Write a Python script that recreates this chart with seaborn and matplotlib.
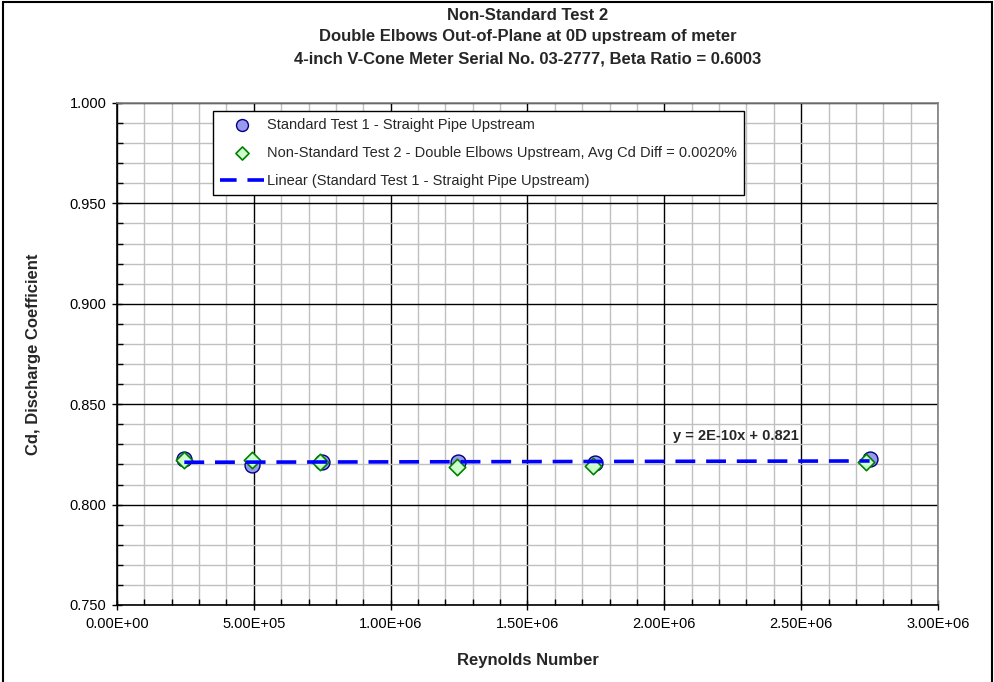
import numpy as np
import pandas as pd
import matplotlib
matplotlib.use("Agg")
import matplotlib.pyplot as plt
from matplotlib.ticker import MultipleLocator, FormatStrFormatter, FuncFormatter
from matplotlib.patches import Rectangle
import seaborn as sns

# Data
std_re = [2.46e5, 4.95e5, 7.48e5, 1.245e6, 1.747e6, 2.750e6]
std_cd = [0.8229, 0.8195, 0.8214, 0.8212, 0.8205, 0.8225]
ns_re = [2.45e5, 4.92e5, 7.42e5, 1.242e6, 1.739e6, 2.736e6]
ns_cd = [0.8222, 0.8222, 0.8214, 0.8189, 0.8192, 0.8214]

title_lines = ["Non-Standard Test 2",
               "Double Elbows Out-of-Plane at 0D upstream of meter",
               "4-inch V-Cone Meter Serial No. 03-2777, Beta Ratio = 0.6003"]
lbl_std = "Standard Test 1 - Straight Pipe Upstream"
lbl_ns = "Non-Standard Test 2 - Double Elbows Upstream, Avg Cd Diff = 0.0020%"
lbl_fit = "Linear (Standard Test 1 - Straight Pipe Upstream)"
eq_text = "y = 2E-10x + 0.821"

sns.set_theme(style="white")
plt.rcParams['font.family'] = ['Liberation Sans', 'DejaVu Sans']

fig = plt.figure(figsize=(9.95, 6.82), dpi=100)
ax = fig.add_axes([117/995, 1-605/682, (938-117)/995, (605-103)/682])

df_std = pd.DataFrame({"Re": std_re, "Cd": std_cd})
df_ns = pd.DataFrame({"Re": ns_re, "Cd": ns_cd})

# Linear fit
coef = np.polyfit(std_re, std_cd, 1)
fx = np.array([min(std_re), max(std_re)])
df_fit = pd.DataFrame({"Re": fx, "Cd": np.polyval(coef, fx)})

sns.scatterplot(data=df_std, x="Re", y="Cd", ax=ax, marker="o", s=115,
                color="#9999EE", edgecolor="#000080", linewidth=1.0,
                label=lbl_std, zorder=3)
sns.scatterplot(data=df_ns, x="Re", y="Cd", ax=ax, marker="D", s=70,
                color="#CCFFCC", edgecolor="#008000", linewidth=1.2,
                label=lbl_ns, zorder=4)
sns.lineplot(data=df_fit, x="Re", y="Cd", ax=ax, color="#0000FF",
             linewidth=2.6, dashes=False, label=lbl_fit, zorder=5)
ax.lines[-1].set_dashes([5.5, 3.0])

ax.set_xlim(0, 3.0e6)
ax.set_ylim(0.75, 1.0)
ax.xaxis.set_major_locator(MultipleLocator(5e5))
ax.xaxis.set_minor_locator(MultipleLocator(1e5))
ax.yaxis.set_major_locator(MultipleLocator(0.05))
ax.yaxis.set_minor_locator(MultipleLocator(0.01))
ax.yaxis.set_major_formatter(FormatStrFormatter("%.3f"))
ax.xaxis.set_major_formatter(FuncFormatter(lambda v, pos: "%.2E" % v))

ax.grid(which="minor", color="#C0C0C0", linewidth=1.0, zorder=0)
ax.grid(which="major", color="#000000", linewidth=1.0, zorder=0)
ax.set_axisbelow(True)

ax.tick_params(axis="both", which="major", direction="inout", length=7,
               width=1, color="black", labelsize=10.5, labelcolor="black", pad=4)
ax.tick_params(axis="both", which="minor", direction="in", length=4,
               width=1, color="black")
ax.tick_params(axis="x", which="both", bottom=True, top=False)
ax.tick_params(axis="y", which="both", left=True, right=False)
ax.tick_params(axis="x", which="major", pad=5)

for sp in ["left", "bottom"]:
    ax.spines[sp].set_color("black")
    ax.spines[sp].set_linewidth(1.2)
for sp in ["top", "right"]:
    ax.spines[sp].set_color("#808080")
    ax.spines[sp].set_linewidth(1.2)

ax.set_xlabel("Reynolds Number", fontsize=12, fontweight="bold", labelpad=16)
ax.set_ylabel("Cd, Discharge Coefficient", fontsize=12, fontweight="bold", labelpad=21)

cx = (117+938)/2/995
for i, yy in enumerate([15, 37, 59]):
    fig.text(cx, 1-yy/682, title_lines[i], ha="center", va="center",
             fontsize=12, fontweight="bold")

ax.text(2.03e6, 0.834, eq_text, fontsize=10.5, fontweight="bold",
        ha="left", va="center", zorder=6)

leg = ax.legend(loc="upper left", bbox_to_anchor=(0.117, 0.984), fontsize=10.5,
                frameon=True, fancybox=False, shadow=False, edgecolor="black",
                framealpha=1.0, borderpad=0.5, labelspacing=0.95,
                handlelength=3.0, handletextpad=0.2, borderaxespad=0,
                markerscale=0.8)
leg.get_frame().set_linewidth(1.0)
leg.legend_handles[2].set_dashes([4.6, 3.0])

fig.patches.append(Rectangle((0.003, -0.01), 0.994, 1.007, transform=fig.transFigure,
                             fill=False, edgecolor="black", linewidth=1.5))

fig.savefig("out.png", dpi=100)
